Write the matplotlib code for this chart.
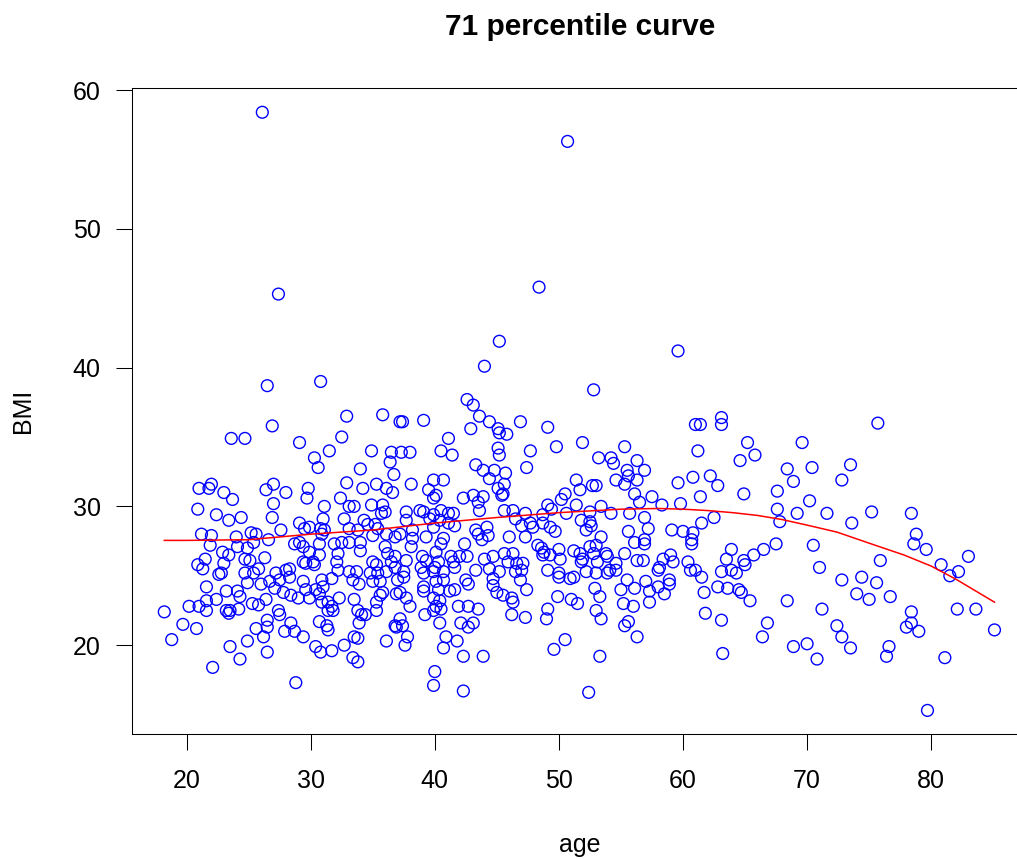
import matplotlib
matplotlib.use("Agg")
import matplotlib.pyplot as plt

plt.rcParams['font.family'] = ['Liberation Sans', 'DejaVu Sans']

# points, grouped by age band
age_g1 = [18.2, 19.7, 20.8, 18.8, 20.2, 26.5, 26.9, 23.6, 24.7, 21.0, 22.0, 21.8, 23.0, 23.7, 26.4, 27.0,
          27.0, 20.9, 22.4, 23.4, 24.4, 26.9, 21.2, 22.0, 21.9, 24.0, 25.2, 25.6, 26.6, 25.4, 24.1, 24.9,
          22.9, 23.4, 21.5, 20.9, 21.3, 23.0, 24.7, 25.1, 26.3, 25.8, 25.4, 24.7, 22.8, 22.6, 21.6, 23.2,
          24.9, 24.1, 24.3, 26.0, 26.7, 22.4, 21.6, 21.6, 21.0, 23.2, 23.5, 24.2, 25.3, 25.8, 26.4, 23.4,
          26.5, 25.6, 26.2, 26.5, 23.5, 24.9, 26.5, 24.3, 22.1, 26.1, 27.4]
bmi_g1 = [22.4, 21.5, 21.2, 20.4, 22.8, 38.7, 35.8, 34.9, 34.9, 31.3, 31.6, 31.3, 31.0, 30.5, 31.2, 31.6,
          30.2, 29.8, 29.4, 29.0, 29.2, 29.2, 28.0, 27.9, 27.2, 27.8, 28.1, 28.0, 27.6, 27.4, 27.1, 27.0,
          26.7, 26.5, 26.2, 25.8, 25.5, 25.9, 26.2, 26.1, 26.3, 25.5, 25.2, 25.2, 25.2, 25.1, 24.2, 23.9,
          24.5, 23.9, 23.5, 24.4, 24.6, 23.3, 23.2, 22.5, 22.8, 22.5, 22.5, 22.6, 23.0, 22.9, 23.3, 22.3,
          21.8, 21.2, 20.6, 21.3, 19.9, 20.3, 19.5, 19.0, 18.4, 58.4, 45.3]

age_g2 = [30.8, 32.9, 35.8, 37.2, 29.1, 32.5, 31.5, 30.3, 30.6, 34.9, 36.5, 36.4, 34.0, 36.7, 32.9, 34.2,
          35.3, 36.1, 36.6, 29.8, 29.7, 28.0, 32.4, 31.1, 33.1, 33.5, 34.9, 35.8, 36.0, 35.7, 31.0, 32.7,
          34.3, 29.1, 27.6, 29.5, 29.9, 30.8, 31.1, 30.9, 33.1, 33.8, 34.6, 35.2, 35.4, 36.1, 36.8, 28.7,
          29.1, 29.4, 30.7, 31.9, 32.5, 33.1, 34.0, 35.0, 36.0, 29.9, 30.7, 32.2, 34.0, 36.2, 29.4, 29.6,
          30.2, 30.3, 32.1, 35.0, 35.3, 36.5, 28.3, 28.0, 32.2, 33.1, 33.7, 34.8, 35.4, 36.1, 27.2, 27.5,
          28.3, 29.4, 30.9, 31.7, 33.4, 33.9, 35.0, 35.6, 37.0, 27.1, 27.8, 28.4, 29.0, 29.6, 29.9, 30.4,
          30.7, 31.0, 31.4, 31.7, 32.3, 33.5, 35.6, 35.8, 35.3, 36.9, 27.4, 27.5, 30.9, 31.4, 31.8, 33.8,
          34.1, 34.4, 35.3, 36.8, 36.9, 30.7, 31.3, 31.4, 33.9, 27.9, 28.4, 28.7, 29.4, 30.4, 30.8, 31.7,
          32.7, 33.5, 33.8, 33.4, 33.8, 36.1, 28.8]
bmi_g2 = [39.0, 36.5, 36.6, 36.1, 34.6, 35.0, 34.0, 33.5, 32.8, 34.0, 33.9, 33.2, 32.7, 32.3, 31.7, 31.3,
          31.6, 31.3, 31.0, 31.3, 30.6, 31.0, 30.6, 30.0, 30.0, 30.0, 30.1, 30.1, 29.6, 29.5, 29.1, 29.1,
          29.0, 28.8, 28.3, 28.4, 28.5, 28.4, 28.3, 28.0, 28.4, 28.3, 28.7, 28.7, 28.4, 28.0, 27.8, 27.3,
          27.4, 27.1, 27.3, 27.3, 27.4, 27.4, 27.4, 27.9, 27.1, 26.7, 26.5, 26.6, 26.8, 26.6, 26.0, 25.9,
          26.0, 25.8, 26.0, 26.0, 25.8, 26.0, 25.5, 25.4, 25.4, 25.3, 25.3, 25.2, 25.2, 25.3, 25.2, 24.7,
          24.9, 24.6, 24.7, 24.8, 24.7, 24.4, 24.6, 24.6, 24.7, 24.1, 23.8, 23.6, 23.4, 24.0, 23.4, 24.0,
          23.7, 24.2, 23.1, 22.8, 23.4, 23.3, 23.6, 23.8, 23.1, 23.7, 22.5, 22.2, 23.1, 22.5, 22.5, 22.5,
          22.2, 22.2, 22.5, 21.4, 21.3, 21.7, 21.4, 21.1, 21.6, 21.0, 21.6, 21.0, 20.6, 19.9, 19.5, 19.6,
          20.0, 20.6, 20.5, 19.1, 18.8, 20.3, 17.3]

age_g3 = [42.6, 43.1, 37.4, 39.1, 43.6, 44.4, 45.1, 45.2, 45.8, 46.9, 42.9, 41.1, 45.1, 45.2, 40.5, 41.4,
          37.3, 38.0, 43.3, 43.9, 44.8, 44.4, 45.7, 38.1, 39.9, 40.7, 39.5, 40.1, 39.9, 42.3, 43.1, 43.9,
          43.5, 45.1, 45.5, 45.6, 45.4, 38.8, 39.1, 37.7, 37.7, 40.5, 41.1, 41.5, 39.9, 39.6, 40.4, 41.1,
          41.6, 39.9, 43.6, 45.6, 46.5, 37.2, 38.2, 38.2, 39.3, 40.7, 40.5, 42.4, 43.3, 43.5, 44.2, 44.3,
          43.8, 46.0, 38.1, 36.8, 37.7, 39.0, 39.3, 40.1, 40.3, 41.3, 42.0, 42.6, 41.5, 44.0, 44.7, 45.6,
          46.3, 45.9, 36.8, 37.5, 37.5, 38.9, 39.1, 39.9, 40.0, 40.7, 41.6, 42.5, 42.7, 43.3, 44.4, 45.2,
          46.5, 44.7, 40.7, 40.1, 37.2, 39.1, 39.1, 40.3, 41.2, 41.6, 44.7, 45.0, 45.5, 46.2, 46.3, 37.7,
          38.0, 39.9, 40.4, 40.1, 39.9, 40.5, 41.9, 42.7, 43.5, 39.2, 37.2, 37.4, 37.8, 37.6, 40.4, 42.1,
          42.7, 43.1, 46.2, 40.9, 41.8, 40.7, 42.3, 43.9, 40.0, 39.9, 42.3, 45.2, 44.0, 48.4]
bmi_g3 = [37.7, 37.3, 36.1, 36.2, 36.5, 36.1, 35.6, 35.3, 35.2, 36.1, 35.6, 34.9, 34.2, 33.7, 34.0, 33.7,
          33.9, 33.9, 33.0, 32.6, 32.6, 32.0, 32.4, 31.6, 31.9, 31.9, 31.2, 30.8, 30.6, 30.6, 30.8, 30.7,
          30.3, 31.3, 30.9, 31.6, 30.8, 29.7, 29.6, 29.6, 29.0, 29.7, 29.5, 29.5, 29.4, 29.1, 29.0, 28.8,
          28.6, 28.5, 29.7, 29.7, 29.1, 28.0, 28.3, 27.7, 27.8, 27.7, 27.3, 27.3, 28.3, 28.0, 28.5, 27.9,
          27.6, 27.8, 27.1, 26.4, 26.1, 26.4, 26.1, 26.7, 26.0, 26.4, 26.4, 26.4, 26.0, 26.2, 26.4, 26.6,
          26.6, 26.0, 25.6, 25.3, 24.9, 25.6, 25.2, 25.3, 25.6, 25.3, 25.6, 24.7, 24.4, 25.4, 25.5, 25.3,
          25.3, 24.8, 24.7, 24.6, 23.8, 24.2, 23.9, 24.0, 23.9, 24.0, 24.3, 23.8, 23.6, 23.4, 23.1, 23.4,
          22.8, 23.4, 23.2, 22.8, 22.5, 22.6, 22.8, 22.8, 22.6, 22.2, 21.9, 21.4, 20.6, 20.0, 21.6, 21.6,
          21.3, 21.6, 22.2, 20.6, 20.3, 19.8, 19.2, 19.2, 18.1, 17.1, 16.7, 41.9, 40.1, 45.8]

age_g4 = [52.8, 49.1, 47.7, 49.8, 51.9, 47.4, 53.2, 54.2, 54.4, 55.3, 56.3, 55.5, 55.6, 54.6, 55.3, 56.3,
          51.4, 51.7, 52.7, 53.0, 56.1, 50.5, 50.2, 49.1, 49.4, 51.4, 52.5, 53.4, 54.2, 55.7, 46.3, 47.3,
          48.7, 50.6, 47.0, 47.7, 47.9, 48.7, 49.3, 49.7, 47.3, 51.8, 52.5, 52.6, 52.2, 53.4, 55.6, 56.1,
          48.3, 48.6, 48.8, 48.7, 49.3, 50.0, 50.1, 51.2, 51.7, 51.9, 51.8, 52.5, 53.0, 52.8, 53.1, 53.8,
          53.9, 54.6, 55.3, 56.3, 46.6, 47.1, 47.0, 49.1, 50.0, 50.0, 50.9, 51.2, 52.2, 53.0, 53.9, 54.1,
          54.6, 55.5, 56.1, 46.9, 47.4, 49.9, 51.0, 51.5, 52.9, 53.3, 49.1, 47.3, 49.0, 53.0, 53.4, 55.0,
          55.2, 56.0, 55.3, 55.6, 56.3, 50.5, 49.6, 53.3, 52.4, 50.7]
bmi_g4 = [38.4, 35.7, 34.0, 34.3, 34.6, 32.8, 33.5, 33.5, 33.1, 34.3, 33.3, 32.6, 32.2, 31.9, 31.6, 31.9,
          31.9, 31.2, 31.5, 31.5, 30.9, 30.9, 30.5, 30.1, 29.8, 30.1, 29.6, 30.0, 29.5, 29.5, 29.7, 29.5,
          29.4, 29.5, 28.6, 28.8, 28.5, 28.8, 28.5, 28.2, 27.8, 29.0, 28.9, 28.6, 28.3, 27.8, 28.2, 27.4,
          27.2, 27.0, 26.7, 26.5, 26.5, 26.9, 26.2, 26.8, 26.6, 26.2, 26.0, 27.1, 27.2, 26.6, 26.0, 26.6,
          26.4, 25.9, 26.6, 26.1, 25.9, 25.9, 25.4, 25.4, 25.2, 24.9, 24.8, 24.9, 25.3, 25.2, 25.2, 25.4,
          25.4, 24.7, 24.1, 24.7, 24.0, 23.5, 23.3, 23.0, 24.1, 23.5, 22.6, 22.0, 21.9, 22.5, 21.9, 24.0,
          23.0, 22.8, 21.4, 21.7, 20.6, 20.4, 19.7, 19.2, 16.6, 56.3]

age_g5 = [61.0, 61.4, 63.1, 63.1, 61.2, 65.2, 65.8, 64.6, 56.9, 59.6, 60.8, 62.2, 62.8, 61.4, 64.9, 67.6,
          67.6, 67.8, 57.5, 56.5, 58.3, 59.8, 56.9, 57.2, 62.5, 61.5, 59.1, 60.0, 60.8, 60.7, 60.7, 56.9,
          56.9, 67.5, 66.5, 65.7, 63.9, 63.5, 64.9, 65.0, 63.9, 63.1, 64.3, 56.8, 58.1, 58.0, 58.4, 59.0,
          59.2, 60.4, 60.6, 61.0, 61.5, 57.0, 57.3, 58.0, 58.5, 58.9, 58.9, 57.3, 61.7, 62.8, 63.6, 64.5,
          64.7, 65.4, 61.8, 63.1, 66.8, 66.4, 63.2, 59.6]
bmi_g5 = [35.9, 35.9, 36.4, 35.9, 34.0, 34.6, 33.7, 33.3, 32.6, 31.7, 32.1, 32.2, 31.5, 30.7, 30.9, 31.1,
          29.8, 28.9, 30.7, 30.3, 30.1, 30.2, 29.2, 28.4, 29.2, 28.8, 28.3, 28.2, 28.1, 27.6, 27.3, 27.6,
          27.3, 27.3, 26.9, 26.5, 26.9, 26.2, 26.1, 25.8, 25.4, 25.3, 25.2, 26.1, 25.6, 25.4, 26.2, 26.5,
          26.0, 26.0, 25.4, 25.4, 24.9, 24.6, 23.9, 24.2, 23.7, 24.7, 24.4, 23.1, 23.8, 24.2, 24.1, 24.0,
          23.8, 23.2, 22.3, 21.8, 21.6, 20.6, 19.4, 41.2]

age_g6 = [75.7, 69.6, 68.4, 70.4, 73.5, 68.9, 72.8, 70.2, 69.2, 71.6, 75.2, 78.4, 73.6, 78.8, 78.6, 79.6,
          70.5, 83.0, 80.8, 82.2, 81.5, 71.0, 75.9, 74.4, 72.8, 75.6, 74.0, 75.0, 76.7, 68.4, 71.2, 82.1,
          83.6, 78.4, 78.4, 78.0, 79.0, 85.1, 72.4, 72.8, 73.5, 68.9, 70.0, 70.8, 76.6, 76.4, 81.1, 79.7]
bmi_g6 = [36.0, 34.6, 32.7, 32.8, 33.0, 31.8, 31.9, 30.4, 29.5, 29.5, 29.6, 29.5, 28.8, 28.0, 27.3, 26.9,
          27.2, 26.4, 25.8, 25.3, 25.0, 25.6, 26.1, 24.9, 24.7, 24.5, 23.7, 23.3, 23.5, 23.2, 22.6, 22.6,
          22.6, 22.4, 21.6, 21.3, 21.0, 21.1, 21.4, 20.6, 19.8, 19.9, 20.1, 19.0, 19.9, 19.2, 19.1, 15.3]

# 71st percentile curve
curve_age = [18.2, 20, 25, 30, 35, 40, 45, 50, 55, 58, 60, 62, 64, 66, 68, 70, 72.4, 75, 77.8, 80, 82, 85.1]
curve_bmi = [27.55, 27.55, 27.6, 28.0, 28.3, 28.8, 29.2, 29.55, 29.8, 29.85, 29.8, 29.7, 29.55, 29.35, 29.05,
             28.65, 28.15, 27.35, 26.5, 25.7, 24.75, 23.1]

age = age_g1 + age_g2 + age_g3 + age_g4 + age_g5 + age_g6
bmi = bmi_g1 + bmi_g2 + bmi_g3 + bmi_g4 + bmi_g5 + bmi_g6

W, H = 1017, 859
fig = plt.figure(figsize=(W / 100, H / 100), dpi=100)
ax = fig.add_axes([132 / W, (H - 734) / H, (1028 - 132) / W, (734 - 87.7) / H])

ax.scatter(age, bmi, s=72, facecolors='none', edgecolors='blue', linewidths=1.0, zorder=2)
ax.plot(curve_age, curve_bmi, color='red', lw=1.1, zorder=3)

ax.set_xlim(15.6, 87.8)
ax.set_ylim(13.6, 60.17)
ax.set_xticks([20, 30, 40, 50, 60, 70, 80])
ax.set_yticks([20, 30, 40, 50, 60])
ax.tick_params(direction='out', length=11.5, width=0.75, labelsize=18, colors='black')
ax.tick_params(axis='x', pad=14)
ax.tick_params(axis='y', pad=11)
for s in ax.spines.values():
    s.set_linewidth(0.75)
ax.spines['right'].set_visible(False)

fig.text(580 / W, 1 - 27 / H, '71 percentile curve', ha='center', va='center',
         fontsize=21.5, fontweight='bold')
fig.text(580 / W, 1 - 845 / H, 'age', ha='center', va='center', fontsize=18)
fig.text(23 / W, 1 - 411 / H, 'BMI', ha='center', va='center', fontsize=18, rotation=90)

fig.savefig('out.png', dpi=100)
